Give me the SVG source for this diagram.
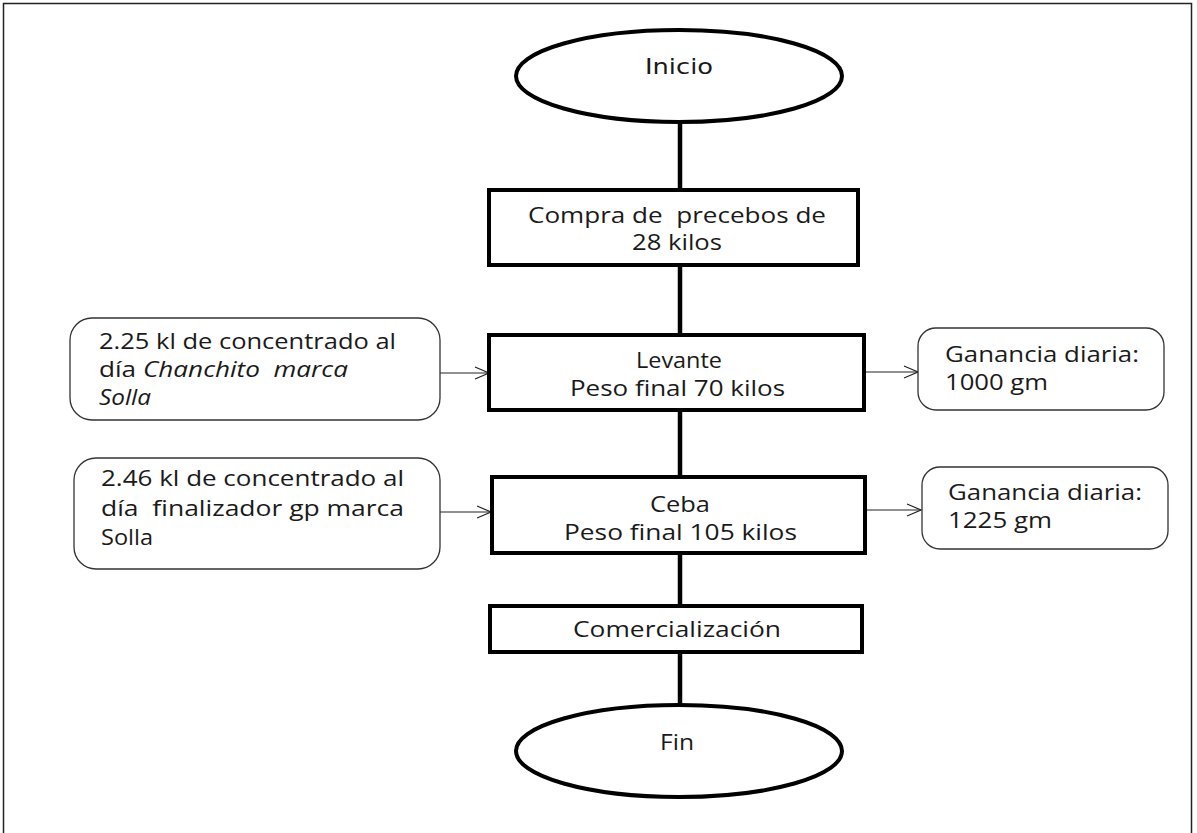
<svg xmlns="http://www.w3.org/2000/svg" width="1197" height="833" viewBox="0 0 1197 833">
<style>
.t{font-family:"Open Sans","Liberation Sans",sans-serif;font-size:21px;fill:#1a1a1a}
.n{font-family:"Liberation Sans Narrow","DejaVu Sans Condensed","Liberation Sans",sans-serif;font-size:22px;fill:#1a1a1a}
.box{fill:#fff;stroke:#000;stroke-width:4}
.rbox{fill:#fff;stroke:#333;stroke-width:1.3}
.main{stroke:#000;stroke-width:4.5;fill:none}
.arr{stroke:#222;stroke-width:1.2;fill:none;marker-end:url(#ah)}
</style>
<defs>
<marker id="ah" markerWidth="16" markerHeight="14" refX="15" refY="7" orient="auto" markerUnits="userSpaceOnUse">
<path d="M1,1 L15,7 L1,13" fill="none" stroke="#222" stroke-width="1.2"/>
</marker>
</defs>
<rect x="0" y="0" width="1197" height="833" fill="#fff"/>
<rect x="3.5" y="3.5" width="1188" height="845" fill="none" stroke="#222" stroke-width="1.5"/>
<g id="connectors">
<line class="main" x1="680" y1="122" x2="680" y2="190"/>
<line class="main" x1="680" y1="265" x2="680" y2="335"/>
<line class="main" x1="680" y1="410" x2="680" y2="477"/>
<line class="main" x1="680" y1="553" x2="680" y2="606"/>
<line class="main" x1="680" y1="652" x2="680" y2="705"/>
<line class="arr" x1="440" y1="373" x2="489" y2="373"/>
<line class="arr" x1="864" y1="372" x2="918" y2="372"/>
<line class="arr" x1="440" y1="512" x2="491" y2="512"/>
<line class="arr" x1="865" y1="510" x2="921" y2="510"/>
</g>
<g id="inicio">
<ellipse cx="679" cy="76" rx="163" ry="46" fill="#fff" stroke="#000" stroke-width="4"/>
<text class="n" x="645" y="74" textLength="68" lengthAdjust="spacingAndGlyphs">Inicio</text>
</g>
<g id="compra">
<rect class="box" x="489" y="190" width="369" height="75"/>
<text class="t" x="528" y="223" textLength="298" lengthAdjust="spacingAndGlyphs" xml:space="preserve">Compra de  precebos de</text>
<text class="t" x="632" y="250" textLength="90" lengthAdjust="spacingAndGlyphs">28 kilos</text>
</g>
<g id="levante">
<rect class="box" x="489" y="335" width="375" height="75"/>
<text class="t" x="636" y="368" textLength="86" lengthAdjust="spacingAndGlyphs">Levante</text>
<text class="t" x="570" y="396" textLength="215" lengthAdjust="spacingAndGlyphs">Peso final 70 kilos</text>
</g>
<g id="ceba">
<rect class="box" x="492" y="477" width="373" height="76"/>
<text class="t" x="650" y="512" textLength="60" lengthAdjust="spacingAndGlyphs">Ceba</text>
<text class="t" x="564" y="540" textLength="233" lengthAdjust="spacingAndGlyphs">Peso final 105 kilos</text>
</g>
<g id="comercializacion">
<rect class="box" x="490" y="606" width="372" height="46"/>
<text class="t" x="573" y="637" textLength="208" lengthAdjust="spacingAndGlyphs">Comercialización</text>
</g>
<g id="fin">
<ellipse cx="679" cy="751" rx="163" ry="46" fill="#fff" stroke="#000" stroke-width="4"/>
<text class="t" x="660" y="750" textLength="34" lengthAdjust="spacingAndGlyphs">Fin</text>
</g>
<g id="alimento1">
<rect class="rbox" x="70" y="318" width="370" height="102" rx="22"/>
<text class="t" x="99" y="349" textLength="297" lengthAdjust="spacingAndGlyphs">2.25 kl de concentrado al</text>
<text class="t" x="99" y="377" textLength="249" lengthAdjust="spacingAndGlyphs" xml:space="preserve">día <tspan font-style="italic">Chanchito  marca</tspan></text>
<text class="t" x="99" y="405" font-style="italic" textLength="52" lengthAdjust="spacingAndGlyphs">Solla</text>
</g>
<g id="ganancia1">
<rect class="rbox" x="918" y="328" width="246" height="82" rx="18"/>
<text class="t" x="945" y="362" textLength="194" lengthAdjust="spacingAndGlyphs">Ganancia diaria:</text>
<text class="t" x="945" y="390" textLength="103" lengthAdjust="spacingAndGlyphs">1000 gm</text>
</g>
<g id="alimento2">
<rect class="rbox" x="74" y="458" width="366" height="111" rx="22"/>
<text class="t" x="101" y="486" textLength="303" lengthAdjust="spacingAndGlyphs">2.46 kl de concentrado al</text>
<text class="t" x="101" y="516" textLength="303" lengthAdjust="spacingAndGlyphs" xml:space="preserve">día  finalizador gp marca</text>
<text class="t" x="101" y="545" textLength="52" lengthAdjust="spacingAndGlyphs">Solla</text>
</g>
<g id="ganancia2">
<rect class="rbox" x="922" y="467" width="246" height="82" rx="18"/>
<text class="t" x="948" y="500" textLength="194" lengthAdjust="spacingAndGlyphs">Ganancia diaria:</text>
<text class="t" x="948" y="528" textLength="104" lengthAdjust="spacingAndGlyphs">1225 gm</text>
</g>
</svg>
